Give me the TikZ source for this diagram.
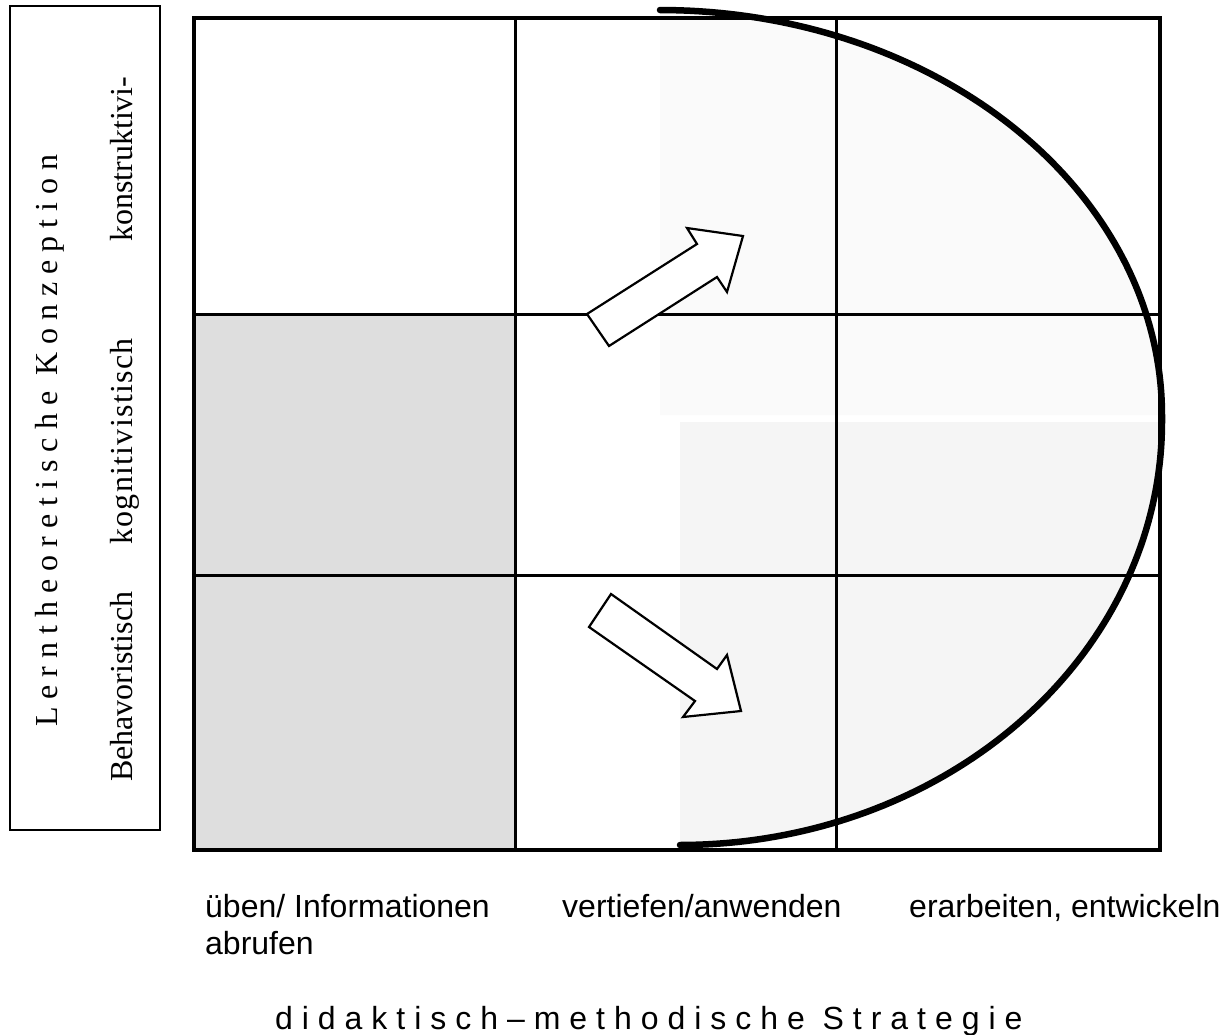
\documentclass[tikz,border=0pt]{standalone}
\usepackage{fontspec}
\setmainfont{Liberation Serif}
\setsansfont{Liberation Sans}
\newfontfamily\spacedserif[LetterSpace=25]{Liberation Serif}
\newfontfamily\lightspacedserif[LetterSpace=4]{Liberation Serif}
\newfontfamily\spacedsans[LetterSpace=28]{Liberation Sans}
\definecolor{cellgray}{HTML}{DEDEDE}
\definecolor{shadeA}{HTML}{FAFAFA}
\definecolor{shadeB}{HTML}{F5F5F5}
\tikzset{
  seriftext/.style={font=\rmfamily\fontsize{32}{37}\selectfont, inner sep=0pt},
  sanstext/.style={font=\sffamily\fontsize{32}{37}\selectfont, inner sep=0pt},
  gridline/.style={line width=3pt},
  outerline/.style={line width=3.4pt},
  blockarrow/.style={draw=black, fill=white, line width=2.2pt, line join=miter},
  halfcurve/.style={line width=6.5pt, line cap=round},
  leftbox/.style={draw, line width=2pt, minimum width=150pt, minimum height=824pt, inner sep=0pt}
}
\begin{document}
\begin{tikzpicture}[x=1pt,y=-1pt]
\useasboundingbox (0,0) rectangle (1228,1034);
\fill[white] (0,0) rectangle (1228,1034);

% grid coordinates
\coordinate (g00) at (194,18);
\coordinate (g33) at (1160,850);

% shaded areas
\fill[cellgray] (194,314) rectangle (515,850);
\fill[shadeA] (660,415) -- plot[domain=90:0, samples=80] ({660+502*cos(\x)},{415-405*sin(\x)}) -- cycle;
\fill[shadeB] (680,422) -- plot[domain=0:90, samples=80] ({680+482*cos(\x)},{422+423*sin(\x)}) -- cycle;

% grid
\draw[gridline] (515,18) -- (515,850);
\draw[gridline] (836,18) -- (836,850);
\draw[gridline] (194,314) -- (1160,314);
\draw[gridline] (194,575) -- (1160,575);
\draw[outerline] (g00) rectangle (g33);

% block arrows
\draw[blockarrow] (587,314) -- (697,244) -- (687,228) -- (743,236) -- (727,292) -- (717,277) -- (609,346) -- cycle;
\draw[blockarrow] (611,594) -- (717,669) -- (727,655) -- (741,711) -- (683,717) -- (695,701) -- (589,627) -- cycle;

% half ellipse
\draw[halfcurve] plot[domain=90:0, samples=80] ({660+502*cos(\x)},{415-405*sin(\x)})
  -- plot[domain=0:90, samples=80] ({680+482*cos(\x)},{422+423*sin(\x)});

% left box and labels
\node[leftbox] (lbox) at (85,418) {};
\node[seriftext, rotate=90, anchor=base west] (title) at (57,727) {\spacedserif Lerntheoretische Konzeption};
\node[seriftext, rotate=90, anchor=base west] (beh) at (132,782) {Behavoristisch};
\node[seriftext, rotate=90, anchor=base west] (kog) at (132,545) {\lightspacedserif kognitivistisch};
\node[seriftext, rotate=90, anchor=base west] (kon) at (132,242) {konstruktivi-};

% bottom labels
\node[sanstext, anchor=base west] (lab1) at (205,917) {üben/ Informationen};
\node[sanstext, anchor=base west] (lab1b) at (205,954) {abrufen};
\node[sanstext, anchor=base west] (lab2) at (562,917) {vertiefen/anwenden};
\node[sanstext, anchor=base west] (lab3) at (909,917) {erarbeiten, entwickeln};
\node[sanstext, anchor=base west] (strat) at (275,1029) {\spacedsans didaktisch–methodische Strategie};
\end{tikzpicture}
\end{document}
